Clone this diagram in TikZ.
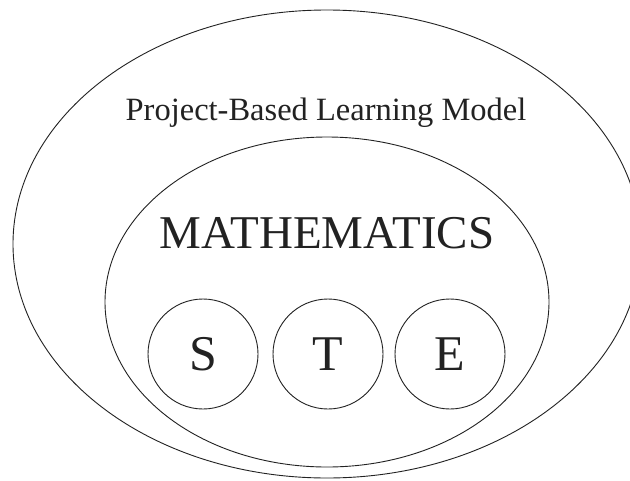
\documentclass[tikz,border=0pt]{standalone}
\usepackage{fontspec}
\setmainfont{Liberation Serif}
\usetikzlibrary{shapes.geometric}
\definecolor{ink}{HTML}{222222}
\begin{document}
\begin{tikzpicture}[x=1pt,y=-1pt,
  ring/.style={draw=ink, ellipse, inner sep=0pt, line width=0.9pt},
  disc/.style={draw=ink, circle, minimum size=110pt, inner sep=0pt, line width=0.9pt},
  letter/.style={anchor=base, text=ink, inner sep=0pt, font=\fontsize{50}{50}\selectfont},
  caption/.style={anchor=base, text=ink, inner sep=0pt}]
\useasboundingbox (0,0) rectangle (630,480);
\clip (0,0) rectangle (630,480);
\fill[white] (0,0) rectangle (630,480);
\node[ring, minimum width=628pt, minimum height=468pt] (outer) at (327,244) {};
\node[ring, minimum width=444pt, minimum height=330pt] (inner) at (327,302) {};
\node[caption, font=\fontsize{32.5}{32.5}\selectfont] (pbl) at (326,120) {Project-Based Learning Model};
\node[caption, font=\fontsize{47}{47}\selectfont] (math) at (327,248) {MATHEMATICS};
\node[disc] (s) at (203,354) {};
\node[disc] (t) at (328,354) {};
\node[disc] (e) at (450,354) {};
\node[letter] (sl) at (203,370) {S};
\node[letter] (tl) at (328,370) {T};
\node[letter] (el) at (450,370) {E};
\end{tikzpicture}
\end{document}
